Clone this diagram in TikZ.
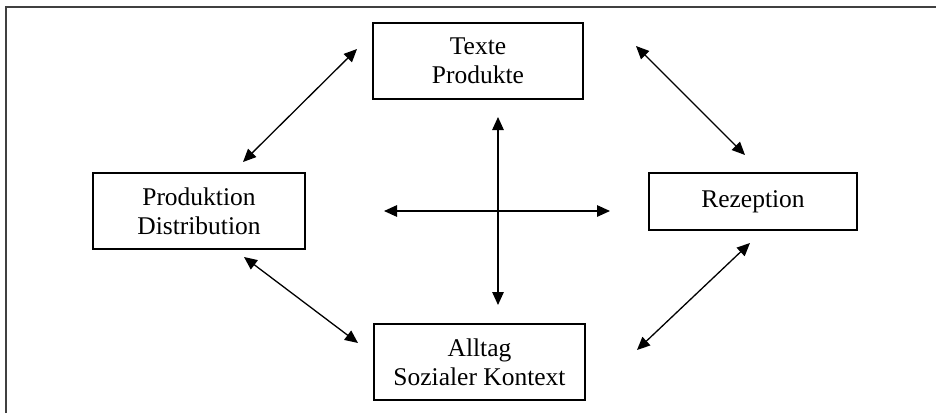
\documentclass[tikz,border=0pt]{standalone}
\usepackage{fontspec}
\setmainfont{Liberation Serif}
\usetikzlibrary{arrows.meta}
\begin{document}
\begin{tikzpicture}[x=1pt,y=-1pt,
  boxnode/.style={draw=black,line width=1.4pt,align=center,inner sep=0pt,
    font=\fontsize{25.5}{29}\selectfont},
  dbl/.style={line width=1.3pt,{Triangle[length=13pt,width=11.5pt]}-{Triangle[length=13pt,width=11.5pt]}},
  framel/.style={draw=black!75,line width=2pt}]
\useasboundingbox (0,0) rectangle (936,413);
\draw[framel] (6,413) -- (6,6.5) -- (936,6.5);
\node[boxnode,minimum width=210pt,minimum height=76pt] (texte) at (478,61) {Texte\\Produkte};
\node[boxnode,minimum width=212pt,minimum height=76pt] (prod) at (199,211) {Produktion\\Distribution};
\node[boxnode,minimum width=208pt,minimum height=57pt] (rez) at (753,201.5) {Rezeption};
\node[boxnode,minimum width=211pt,minimum height=76pt] (alltag) at (479.5,362) {Alltag\\Sozialer Kontext};
% central cross
\coordinate (vt) at (498,117);
\coordinate (vb) at (498,305);
\coordinate (hl) at (384,211);
\coordinate (hr) at (610,211);
\draw[dbl] (vt) -- (vb);
\draw[dbl] (hl) -- (hr);
% diagonals
\coordinate (a1) at (357,49);  \coordinate (a2) at (243,162);
\coordinate (b1) at (636,46);  \coordinate (b2) at (745,155);
\coordinate (c1) at (244,257); \coordinate (c2) at (358,343);
\coordinate (d1) at (750,243); \coordinate (d2) at (637,350);
\draw[dbl] (a1) -- (a2);
\draw[dbl] (b1) -- (b2);
\draw[dbl] (c1) -- (c2);
\draw[dbl] (d1) -- (d2);
\end{tikzpicture}
\end{document}
